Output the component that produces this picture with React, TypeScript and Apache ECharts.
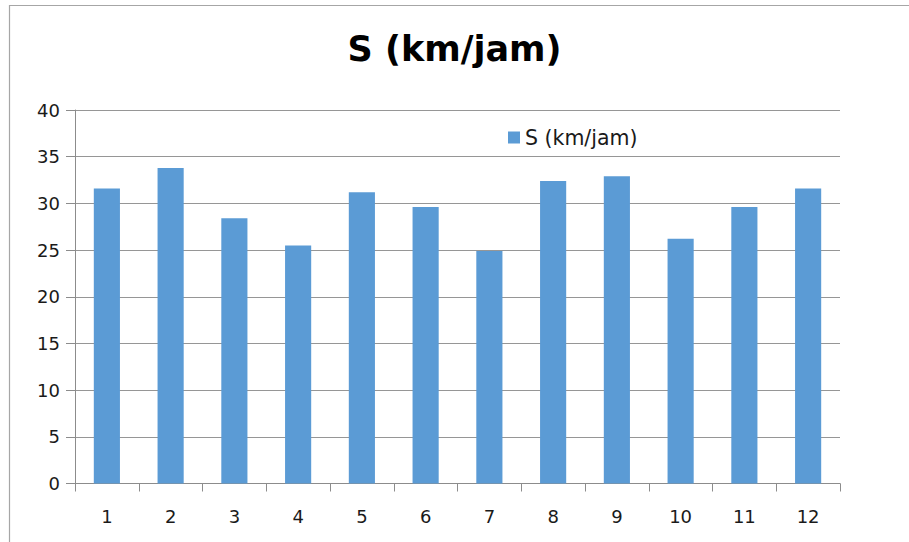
import React, { useEffect, useRef } from "react";
import * as echarts from "echarts";

const titleText = "S (km/jam)";
const seriesName = "S (km/jam)";
const categories = ["1", "2", "3", "4", "5", "6", "7", "8", "9", "10", "11", "12"];
const speeds = [31.6, 33.8, 28.4, 25.5, 31.2, 29.6, 24.9, 32.4, 32.9, 26.2, 29.6, 31.6];
const yTicks = { min: 0, max: 40, interval: 5 };

const FONT = "DejaVu Sans";

export default function App() {
  const ref = useRef<HTMLDivElement>(null);

  useEffect(() => {
    if (!ref.current) return;
    const chart = echarts.init(ref.current, undefined, { renderer: "svg" });
    chart.setOption({
      animation: false,
      backgroundColor: "#ffffff",
      title: {
        text: titleText,
        left: "center",
        top: 31,
        padding: 0,
        textStyle: {
          fontFamily: FONT,
          fontWeight: "bold",
          fontSize: 35,
          color: "#000000",
        },
      },
      legend: {
        left: 508,
        top: 127,
        padding: 0,
        itemWidth: 12,
        itemHeight: 12,
        icon: "rect",
        data: [seriesName],
        textStyle: {
          fontFamily: FONT,
          fontSize: 20.5,
          color: "#1a1a1a",
          padding: [0, 0, 0, 0],
        },
      },
      grid: {
        left: 75,
        right: 69,
        top: 110,
        bottom: 58.5,
        containLabel: false,
      },
      xAxis: {
        type: "category",
        data: categories,
        boundaryGap: true,
        axisLine: { show: true, lineStyle: { color: "#8c8c8c", width: 1 } },
        axisTick: { show: true, length: 8, alignWithLabel: false, lineStyle: { color: "#8c8c8c" } },
        axisLabel: {
          margin: 24,
          fontFamily: FONT,
          fontSize: 18,
          color: "#1a1a1a",
        },
        splitLine: { show: false },
      },
      yAxis: {
        type: "value",
        min: yTicks.min,
        max: yTicks.max,
        interval: yTicks.interval,
        axisLine: { show: true, lineStyle: { color: "#8c8c8c", width: 1 } },
        axisTick: { show: true, length: 9, inside: false, lineStyle: { color: "#8c8c8c" } },
        axisLabel: {
          margin: 15,
          fontFamily: FONT,
          fontSize: 18,
          color: "#1a1a1a",
        },
        splitLine: { show: true, lineStyle: { color: "#969696", width: 1 } },
      },
      series: [
        {
          name: seriesName,
          type: "bar",
          data: speeds,
          barWidth: "41%",
          itemStyle: { color: "#5B9BD5" },
        },
      ],
      graphic: [
        {
          type: "rect",
          silent: true,
          shape: { x: 9.5, y: 5.5, width: 1000, height: 1000 },
          style: { fill: "none", stroke: "#a6a6a6", lineWidth: 1.2 },
        },
      ],
    });
    return () => {
      chart.dispose();
    };
  }, []);

  return (
    <div
      ref={ref}
      style={{ position: "absolute", left: 0, top: 0, width: 909, height: 542 }}
    />
  );
}
